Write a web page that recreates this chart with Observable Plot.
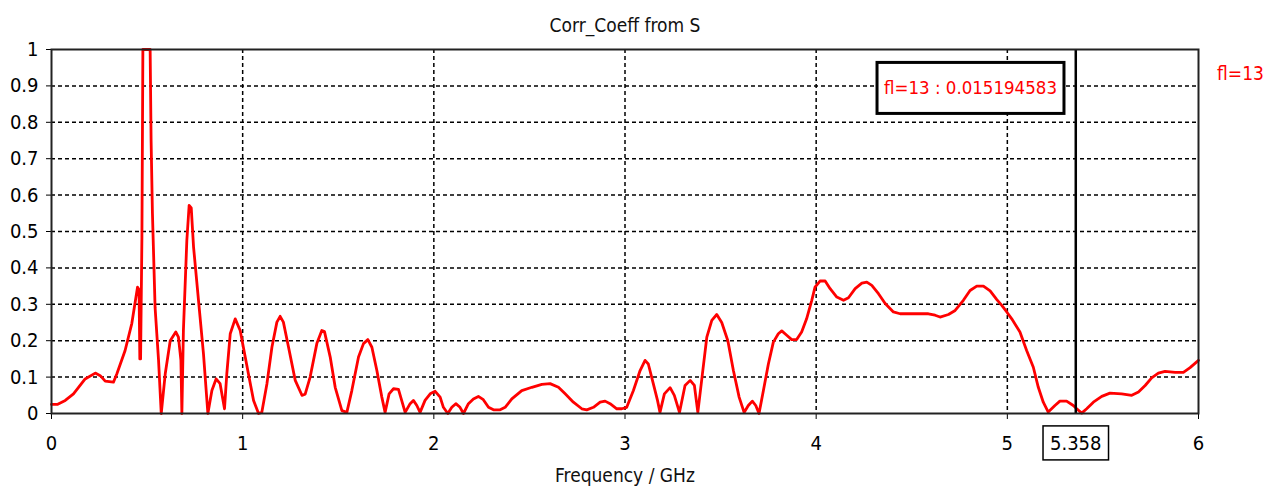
<!DOCTYPE html>
<html><head><meta charset="utf-8">
<script src="https://cdn.jsdelivr.net/npm/d3@7"></script>
<script src="https://cdn.jsdelivr.net/npm/@observablehq/plot@0.6"></script>
<style>body{margin:0;background:#fff} svg{display:block}</style>
</head><body><div id="chart"></div>
<script>
const freq = [0,0.03,0.072,0.115,0.176,0.229,0.255,0.281,0.324,0.342,0.385,0.42,0.45,0.458,0.462,0.466,0.473,0.478,0.516,0.521,0.528,0.542,0.56,0.574,0.595,0.621,0.65,0.664,0.677,0.682,0.69,0.708,0.72,0.731,0.743,0.769,0.795,0.818,0.839,0.861,0.882,0.905,0.917,0.935,0.961,0.987,1.03,1.057,1.083,1.1,1.127,1.153,1.179,1.196,1.213,1.24,1.275,1.31,1.327,1.353,1.388,1.414,1.428,1.458,1.484,1.519,1.545,1.571,1.606,1.632,1.655,1.676,1.702,1.728,1.745,1.766,1.789,1.815,1.85,1.876,1.893,1.911,1.928,1.954,1.981,2.007,2.033,2.05,2.073,2.094,2.115,2.137,2.155,2.181,2.207,2.233,2.259,2.286,2.312,2.347,2.373,2.408,2.46,2.513,2.565,2.608,2.652,2.687,2.73,2.774,2.8,2.835,2.87,2.896,2.922,2.957,2.983,3.009,3.044,3.079,3.105,3.122,3.148,3.17,3.183,3.206,3.236,3.258,3.285,3.314,3.341,3.363,3.381,3.405,3.428,3.454,3.48,3.506,3.538,3.567,3.597,3.623,3.645,3.666,3.684,3.701,3.724,3.75,3.776,3.802,3.82,3.846,3.872,3.898,3.924,3.95,3.977,3.994,4.02,4.047,4.073,4.108,4.143,4.169,4.204,4.239,4.265,4.291,4.326,4.361,4.404,4.439,4.587,4.622,4.648,4.692,4.727,4.77,4.805,4.84,4.875,4.91,4.945,4.971,4.997,5.023,5.066,5.101,5.136,5.162,5.188,5.214,5.249,5.275,5.31,5.345,5.363,5.389,5.415,5.45,5.494,5.537,5.598,5.651,5.686,5.721,5.755,5.79,5.825,5.878,5.921,5.956,6.0];
const corr = [0.025,0.025,0.036,0.054,0.095,0.111,0.104,0.089,0.086,0.109,0.173,0.247,0.347,0.34,0.15,0.15,0.485,1.0,1.0,0.75,0.55,0.29,0.146,0.0,0.109,0.2,0.224,0.21,0.146,0.0,0.228,0.476,0.572,0.565,0.458,0.311,0.164,0.0,0.063,0.095,0.082,0.013,0.109,0.219,0.26,0.228,0.109,0.036,0.0,0.003,0.082,0.182,0.251,0.267,0.251,0.182,0.091,0.05,0.053,0.1,0.192,0.228,0.225,0.155,0.072,0.008,0.003,0.063,0.155,0.192,0.203,0.182,0.118,0.045,0.003,0.054,0.068,0.066,0.003,0.027,0.036,0.022,0.003,0.036,0.054,0.061,0.045,0.017,0.0,0.017,0.027,0.017,0.0,0.027,0.04,0.047,0.038,0.017,0.01,0.01,0.017,0.04,0.063,0.072,0.08,0.082,0.072,0.054,0.031,0.013,0.01,0.017,0.031,0.034,0.027,0.013,0.013,0.017,0.063,0.118,0.146,0.136,0.082,0.036,0.003,0.054,0.071,0.05,0.003,0.077,0.091,0.077,0.003,0.109,0.21,0.256,0.272,0.25,0.2,0.118,0.045,0.003,0.022,0.034,0.022,0.0,0.063,0.136,0.196,0.219,0.227,0.215,0.203,0.203,0.224,0.26,0.311,0.347,0.364,0.364,0.343,0.32,0.311,0.318,0.343,0.358,0.361,0.352,0.329,0.302,0.279,0.274,0.274,0.27,0.265,0.272,0.283,0.311,0.338,0.35,0.35,0.337,0.313,0.297,0.279,0.26,0.224,0.173,0.127,0.072,0.031,0.004,0.022,0.034,0.034,0.022,0.013,0.001,0.013,0.031,0.047,0.056,0.054,0.05,0.059,0.077,0.098,0.111,0.116,0.113,0.113,0.126,0.146];
const xTicks = [0,1,2,3,4,5,6];
const yTicks = [0,0.1,0.2,0.3,0.4,0.5,0.6,0.7,0.8,0.9,1];
const titleText = "Corr_Coeff from S";
const xLabel = "Frequency / GHz";
const seriesName = "fl=13";
const markerFreq = 5.358;
const markerLabel = "5.358";
const annotationText = "fl=13 : 0.015194583";

const data = freq.map((f, i) => ({f, v: corr[i]}));
const font = '"DejaVu Sans Condensed", "Liberation Sans", sans-serif';
const gridStyle = {stroke: "#000", strokeOpacity: 1, strokeWidth: 1.5, strokeDasharray: "4,3"};

const chart = Plot.plot({
  width: 1263, height: 487,
  marginLeft: 51, marginRight: 65, marginTop: 49, marginBottom: 74,
  style: {fontFamily: font, fontSize: "20px", color: "#000", background: "#fff"},
  x: {domain: [0, 6], ticks: xTicks, tickSize: 6, tickPadding: 16, label: null, tickFormat: d => String(d)},
  y: {domain: [0, 1], ticks: yTicks, tickSize: 5, tickPadding: 8, label: null, tickFormat: d => String(+d.toFixed(1))},
  marks: [
    Plot.gridY(yTicks.filter(d => d > 0 && d < 1), gridStyle),
    Plot.gridX(xTicks.filter(d => d > 0 && d < 6), gridStyle),
    Plot.line(data, {x: "f", y: "v", stroke: "#ff0000", strokeWidth: 2.8}),
    Plot.ruleX([markerFreq], {stroke: "#000", strokeWidth: 2.5}),
    Plot.frame({stroke: "#222", strokeWidth: 2}),
    Plot.text([titleText], {text: d => d, frameAnchor: "top", lineAnchor: "middle", dy: -24, fill: "#111", fontSize: 19}),
    Plot.text([xLabel], {text: d => d, frameAnchor: "bottom", lineAnchor: "middle", dy: 62, fill: "#111", fontSize: 19}),
    Plot.text([seriesName], {text: d => d, frameAnchor: "top-right", lineAnchor: "middle", textAnchor: "middle", dx: 42, dy: 24, fill: "#ff0000", fontSize: 19}),
    Plot.text([annotationText], {text: d => d, frameAnchor: "top-right", lineAnchor: "middle", textAnchor: "middle", dx: -228, dy: 39, fill: "#ff0000", fontSize: 18.5}),
    Plot.text([{f: markerFreq, label: markerLabel}], {x: "f", text: "label", frameAnchor: "bottom", lineAnchor: "middle", dy: 30, fill: "#000", fontSize: 20})
  ]
});
document.getElementById("chart").append(chart);

function boxAround(content, padX, padY, sw) {
  const t = Array.from(chart.querySelectorAll("text")).find(e => e.textContent === content);
  if (!t) return;
  const b = t.getBBox();
  const r = document.createElementNS("http://www.w3.org/2000/svg", "rect");
  r.setAttribute("x", b.x - padX);
  r.setAttribute("y", b.y - padY);
  r.setAttribute("width", b.width + 2 * padX);
  r.setAttribute("height", b.height + 2 * padY);
  r.setAttribute("fill", "#fff");
  r.setAttribute("stroke", "#000");
  r.setAttribute("stroke-width", sw);
  if (t.getAttribute("transform")) r.setAttribute("transform", t.getAttribute("transform"));
  t.parentNode.insertBefore(r, t);
}
boxAround(annotationText, 7, 15, 3);
boxAround(markerLabel, 7, 5, 1.5);
</script>
</body></html>
